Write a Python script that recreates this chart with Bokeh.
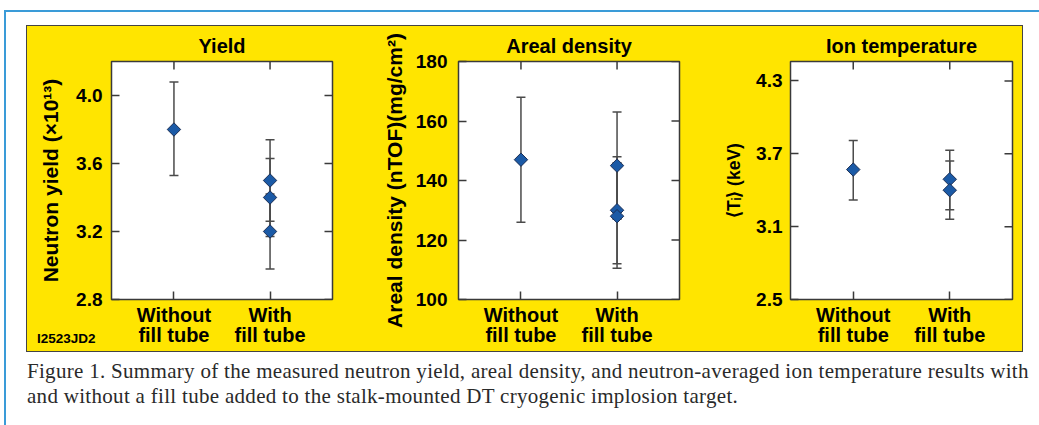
import math
from bokeh.plotting import figure
from bokeh.models import Range1d, FixedTicker, LinearAxis, Div, PrintfTickFormatter
from bokeh.layouts import row, column
from bokeh.embed import file_html
from bokeh.resources import INLINE

# ---------------- data ----------------
categories = ["Without\nfill tube", "With\nfill tube"]
cat_pos = [1, 2]

yield_x = [1, 2, 2, 2]
yield_val = [3.80, 3.50, 3.40, 3.20]
yield_lo = [3.53, 3.26, 3.17, 2.98]
yield_hi = [4.08, 3.74, 3.63, 3.42]
yield_ticks = [2.8, 3.2, 3.6, 4.0]

areal_x = [1, 2, 2, 2]
areal_val = [147, 145, 130, 128]
areal_lo = [126, 127, 112, 110.5]
areal_hi = [168, 163, 148, 146]
areal_ticks = [100, 120, 140, 160, 180]

ti_x = [1, 2, 2]
ti_val = [3.57, 3.49, 3.40]
ti_lo = [3.32, 3.24, 3.16]
ti_hi = [3.81, 3.73, 3.64]
ti_ticks = [2.5, 3.1, 3.7, 4.3]

YELLOW = "#FFE500"
FONT = "Liberation Sans"
FRAME = "#3a3a3a"
ERR = "#4a4a4a"
MARK = "#1b5aa6"
XR = (0.35, 2.65)


def panel(title, xs, vals, lo, hi, yr, ticks, fmt, ylabel, width, left, right,
          label_size, label_standoff, tick_standoff):
    p = figure(width=width, height=325, x_range=Range1d(*XR), y_range=Range1d(*yr),
               output_backend="svg", toolbar_location=None,
               min_border_left=left, min_border_right=right,
               min_border_top=35, min_border_bottom=52,
               background_fill_color="white", border_fill_color=YELLOW,
               outline_line_color=FRAME, outline_line_width=1.5,
               x_axis_location=None, y_axis_location=None)
    p.grid.visible = False
    p.title.text = title
    p.title.align = "center"
    p.title.text_font = FONT
    p.title.text_font_size = "20px"
    p.title.text_font_style = "bold"
    p.title.text_color = "black"
    p.title.standoff = 10

    labels = {cat_pos[i]: categories[i] for i in range(len(cat_pos))}
    xax = LinearAxis(ticker=FixedTicker(ticks=cat_pos), axis_line_color=None,
                     major_tick_in=8, major_tick_out=0, minor_tick_line_color=None,
                     major_tick_line_color=FRAME, major_tick_line_width=1.5,
                     major_label_overrides=labels, major_label_text_font=FONT,
                     major_label_text_font_size="20px", major_label_text_font_style="bold",
                     major_label_text_color="black", major_label_text_line_height=0.95,
                     major_label_standoff=4)
    p.add_layout(xax, "below")

    yax = LinearAxis(ticker=FixedTicker(ticks=ticks), axis_line_color=None,
                     major_tick_in=8, major_tick_out=0, minor_tick_line_color=None,
                     major_tick_line_color=FRAME, major_tick_line_width=1.5,
                     formatter=PrintfTickFormatter(format=fmt),
                     major_label_text_font=FONT, major_label_text_font_size="19px",
                     major_label_text_font_style="bold", major_label_text_color="black",
                     major_label_standoff=tick_standoff, axis_label=ylabel,
                     axis_label_text_font=FONT, axis_label_text_font_size=label_size,
                     axis_label_text_font_style="bold", axis_label_text_color="black",
                     axis_label_standoff=label_standoff)
    p.add_layout(yax, "left")

    # mirrored inward ticks on top and right edges (clipped to the frame)
    p.scatter(x=cat_pos, y=[yr[1]] * len(cat_pos), marker="dash", angle=math.pi / 2, size=16,
              line_color=FRAME, line_width=1.5)
    p.scatter(x=[XR[1]] * len(ticks), y=ticks, marker="dash", size=16,
              line_color=FRAME, line_width=1.5)

    p.segment(x0=xs, y0=lo, x1=xs, y1=hi, line_color=ERR, line_width=1.5)
    p.scatter(x=xs, y=lo, marker="dash", size=9, line_color=ERR, line_width=1.5)
    p.scatter(x=xs, y=hi, marker="dash", size=9, line_color=ERR, line_width=1.5)
    p.scatter(x=xs, y=vals, marker="square", angle=math.pi / 4, size=9.5,
              fill_color=MARK, line_color="#1c2f55", line_width=1)
    return p


p1 = panel("Yield", yield_x, yield_val, yield_lo, yield_hi, (2.8, 4.2), yield_ticks, "%.1f",
           "Neutron yield (\u00d710\u00b9\u00b3)", 317, 84, 12, "21px", 11, 9)
p2 = panel("Areal density", areal_x, areal_val, areal_lo, areal_hi, (100, 180), areal_ticks, "%d",
           "Areal density (nTOF)(mg/cm\u00b2)", 344, 114, 9, "21px", 7, 11)
p3 = panel("Ion temperature", ti_x, ti_val, ti_lo, ti_hi, (2.5, 4.46), ti_ticks, "%.1f",
           "\u27e8T\u1d62\u27e9 (keV)", 334, 102, 10, "17.5px", 9, 8)

panels = row(p1, p2, p3, styles={"background-color": YELLOW, "border": "1.5px solid #444"})

tag = Div(text="I2523JD2", width=90, height=16, margin=(-21, 0, 0, 11),
          styles={"font-family": "'Liberation Sans', sans-serif", "font-size": "13.5px",
                  "font-weight": "bold", "color": "black", "line-height": "16px"})

caption = Div(
    text="Figure 1. Summary of the measured neutron yield, areal density, and neutron-averaged ion "
         "temperature results with<br>and without a fill tube added to the stalk-mounted DT cryogenic "
         "implosion target.",
    width=1005, height=70, margin=(12, 0, 0, 1),
    styles={"font-family": "'Liberation Serif', serif", "font-size": "21px",
            "letter-spacing": "0.3px", "line-height": "25px", "color": "#2a2a2a",
            "white-space": "nowrap"})

page = column(panels, tag, caption, margin=(10, 0, 0, 4),
              styles={"border-left": "2px solid #3a9bd8", "border-top": "2px solid #3a9bd8",
                      "padding": "13px 8px 0 20px"})

open("out.html", "w").write(file_html(page, INLINE))
